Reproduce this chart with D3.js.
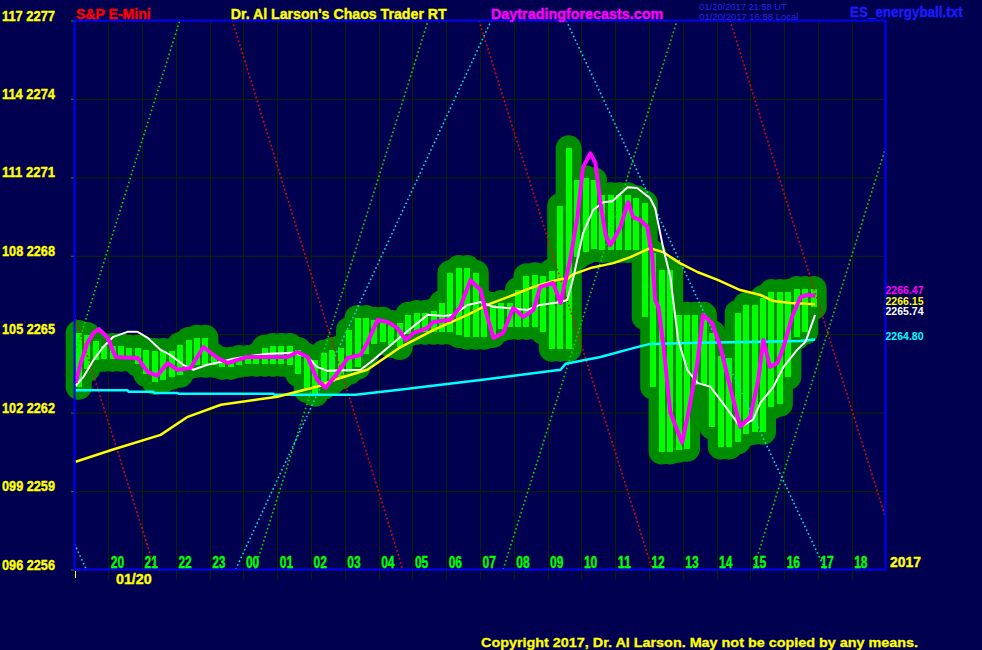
<!DOCTYPE html>
<html><head><meta charset="utf-8">
<script src="https://cdn.jsdelivr.net/npm/d3@7"></script>
<style>html,body{margin:0;padding:0;background:#000050;overflow:hidden}svg{display:block}</style>
</head><body><svg id="c" width="982" height="650"></svg>
<script>
// ---------------- DATA ----------------
const priceTicks   = [2256, 2259, 2262, 2265, 2268, 2271, 2274, 2277];
const priceTickAlt = ["096", "099", "102", "105", "108", "111", "114", "117"];
const hourLabels   = ["20","21","22","23","00","01","02","03","04","05","06","07","08","09","10","11","12","13","14","15","16","17","18"];
const dateLabel = "01/20";
const yearLabel = "2017";

// 15-minute bars starting 19:00
const barStart = "19:00";
const barMinutes = 15;
const barHigh = [2265.05,2264.97,2264.74,2264.55,2264.55,2264.55,2264.48,2264.48,2264.40,2264.36,2264.36,2264.36,
  2264.59,2264.78,2264.86,2264.86,2264.17,2264.02,2264.02,2264.09,2264.09,2264.17,2264.48,2264.55,
  2264.55,2264.55,2264.40,2264.17,2264.02,2264.29,2264.40,2264.48,2265.16,2265.62,2265.62,2265.55,
  2265.55,2265.43,2265.43,2265.74,2265.81,2265.81,2265.89,2266.19,2267.34,2267.53,2267.53,2267.34,
  2266.19,2266.12,2266.19,2266.19,2266.69,2267.22,2267.26,2267.22,2267.40,2269.90,2272.11,2270.89,
  2270.97,2270.89,2270.32,2270.32,2270.32,2270.32,2270.20,2270.01,2268.10,2267.45,2267.45,2265.74,
  2265.74,2265.74,2265.74,2265.05,2264.17,2264.09,2265.81,2266.12,2266.12,2266.39,2266.61,2266.61,
  2266.61,2266.73,2266.73,2266.73];
const barLow = [2262.99,2263.67,2264.02,2264.06,2264.06,2264.06,2264.06,2263.87,2263.48,2263.18,2263.25,2263.37,
  2263.45,2263.75,2263.83,2263.83,2263.83,2263.75,2263.75,2263.83,2263.87,2263.87,2263.87,2263.87,
  2263.87,2263.83,2263.48,2262.87,2262.72,2262.99,2263.18,2263.37,2263.56,2263.75,2264.25,2264.63,
  2264.71,2264.59,2264.51,2265.01,2265.09,2265.09,2265.09,2265.09,2265.09,2264.97,2264.90,2264.90,
  2264.90,2264.97,2265.20,2265.28,2265.28,2265.28,2265.28,2265.09,2264.44,2264.44,2264.44,2267.95,
  2268.14,2268.26,2268.22,2268.22,2268.22,2268.22,2268.22,2265.66,2262.99,2260.51,2260.51,2260.58,
  2260.62,2263.06,2263.06,2261.46,2260.70,2260.70,2260.89,2261.19,2261.27,2261.27,2262.22,2262.34,
  2263.37,2264.90,2265.09,2266.04];

const magentaLine = [["19:02",2263.14],["19:11",2263.90],["19:23",2264.67],["19:34",2265.05],["19:43",2265.20],
  ["19:59",2264.86],["20:13",2264.13],["20:52",2264.09],["21:10",2263.56],["21:27",2263.41],["21:45",2263.90],
  ["22:03",2263.64],["22:26",2263.71],["22:49",2264.51],["23:14",2264.09],["23:32",2263.90],["00:07",2264.13],
  ["00:30",2264.13],["01:18",2264.13],["01:36",2264.32],["01:54",2264.13],["02:11",2263.25],["02:26",2262.95],
  ["02:47",2263.52],["03:05",2264.09],["03:28",2264.21],["03:40",2264.67],["03:58",2265.55],["04:16",2265.47],
  ["04:33",2265.24],["04:48",2264.78],["05:02",2265.05],["05:27",2265.24],["05:37",2265.47],["06:07",2265.55],
  ["06:25",2266.04],["06:43",2267.07],["07:01",2266.69],["07:13",2265.66],["07:24",2264.86],["07:41",2265.05],
  ["07:59",2266.00],["08:17",2265.66],["08:35",2265.93],["08:47",2266.81],["09:10",2266.96],["09:23",2266.19],
  ["09:40",2267.84],["09:53",2269.48],["10:03",2271.39],["10:16",2271.92],["10:25",2271.54],["10:34",2270.01],
  ["10:43",2268.79],["10:51",2268.41],["11:00",2268.71],["11:09",2269.10],["11:23",2270.05],["11:32",2269.48],
  ["11:45",2269.36],["11:57",2269.10],["12:06",2267.95],["12:11",2266.31],["12:17",2266.04],["12:26",2264.51],
  ["12:38",2262.00],["12:59",2260.85],["13:10",2262.00],["13:26",2263.90],["13:36",2265.74],["13:52",2265.43],
  ["14:07",2264.51],["14:24",2262.99],["14:42",2261.46],["15:00",2261.84],["15:14",2263.25],["15:23",2264.78],
  ["15:35",2263.75],["15:48",2263.90],["15:59",2264.51],["16:14",2265.66],["16:29",2266.42],["16:41",2266.50],
  ["16:55",2266.47]];

const whiteLine = [["19:02",2263.03],["19:16",2263.37],["19:34",2264.02],["19:51",2264.51],["20:09",2264.90],
  ["20:34",2265.09],["20:52",2265.09],["21:10",2264.86],["21:33",2264.40],["21:50",2264.21],["22:13",2263.83],
  ["22:31",2263.64],["22:56",2263.83],["23:19",2263.94],["23:42",2264.06],["00:12",2264.17],["00:43",2264.25],
  ["01:29",2264.29],["01:54",2264.13],["02:11",2263.75],["02:29",2263.60],["03:28",2263.64],["03:51",2264.02],
  ["04:39",2264.90],["05:27",2265.74],["05:55",2265.70],["06:13",2265.74],["06:38",2266.12],["07:01",2266.23],
  ["07:24",2266.04],["07:49",2266.00],["08:24",2265.93],["08:47",2266.12],["09:23",2266.23],["09:35",2266.31],
  ["09:46",2267.19],["10:03",2268.87],["10:21",2269.75],["10:39",2270.05],["10:55",2270.09],["11:22",2270.62],
  ["11:39",2270.59],["12:02",2270.20],["12:11",2269.82],["12:25",2268.33],["12:38",2267.19],["12:43",2266.31],
  ["12:52",2264.78],["13:08",2263.64],["13:26",2263.14],["13:49",2262.99],["14:07",2262.49],["14:24",2261.99],
  ["14:42",2261.46],["15:05",2261.73],["15:18",2262.38],["15:41",2262.99],["15:59",2263.75],["16:23",2264.40],
  ["16:38",2264.71],["16:55",2265.74]];

const yellowLine = [["19:02",2260.12],["20:07",2260.58],["21:33",2261.15],["22:21",2261.84],["23:20",2262.30],
  ["01:00",2262.61],["02:17",2263.03],["02:40",2263.25],["03:40",2263.64],["04:39",2264.51],["05:37",2265.16],
  ["06:38",2265.74],["07:13",2266.12],["07:59",2266.50],["08:35",2266.81],["09:23",2267.11],["09:35",2267.11],
  ["09:46",2267.30],["10:16",2267.53],["10:57",2267.72],["11:27",2267.95],["12:02",2268.29],["12:25",2268.14],
  ["12:55",2267.72],["13:26",2267.38],["14:03",2267.07],["14:42",2266.69],["15:18",2266.50],["15:41",2266.27],
  ["16:11",2266.19],["16:55",2266.15]];

const cyanLine = [["19:02",2262.86],["20:34",2262.86],["20:36",2262.80],["21:20",2262.80],["21:22",2262.75],
  ["22:03",2262.75],["22:05",2262.72],["00:53",2262.72],["00:55",2262.68],["03:19",2262.68],["04:33",2262.87],
  ["07:01",2263.25],["09:23",2263.64],["09:32",2263.87],["10:34",2264.13],["11:27",2264.44],["12:02",2264.63],
  ["13:31",2264.67],["16:29",2264.74],["16:55",2264.80]];

const lastValues = [2266.47, 2266.15, 2265.74, 2264.80]; // magenta, yellow, white, cyan

// dotted angle lines: [time1, price1, time2, price2]
const redAngles = [["19:00",2265.73,"21:23",2256],["23:40",2277,"04:43",2256],["06:58",2277,"12:06",2256],["14:24",2277,"20 19:00",2257.99]];
const greenAngles = [["19:00",2264.18,"22:07",2277],["00:20",2256,"05:28",2277],["07:41",2256,"12:50",2277],["15:05",2256,"20 19:00",2272.12]];
const cyanAngles = [["19:00",2256.98,"19:21",2256],["23:46",2256,"07:20",2277],["09:33",2277,"17:13",2256]];

// ---------------- CHART ----------------
function T(s){
  let day = null, hm = s;
  if (s.includes(" ")) { const p = s.split(" "); day = +p[0]; hm = p[1]; }
  const [h, m] = hm.split(":").map(Number);
  if (day === null) day = h >= 19 ? 19 : 20;
  return new Date(2017, 0, day, h, m);
}
const L = 74.5, R = 885.5, TOP = 20.5, B = 569.5;
const x = d3.scaleTime().domain([T("19:00"), T("20 19:00")]).range([L, R]);
const y = d3.scaleLinear().domain([2256, 2277]).range([B, TOP]);
const svg = d3.select("#c");
const FONT = "'Liberation Sans', Arial, sans-serif";

svg.append("rect").attr("width",982).attr("height",650).attr("fill","#000050");
svg.append("clipPath").attr("id","plot").append("rect").attr("x",L).attr("y",TOP).attr("width",R-L).attr("height",B-TOP);

const gridColor = "#0c1e0c";
// vertical hour gridlines
const hourDates = hourLabels.map(h => T(h + ":00"));
svg.append("g").selectAll("line").data(hourDates).join("line")
  .attr("x1", d => Math.round(x(d)) + 0.5).attr("x2", d => Math.round(x(d)) + 0.5)
  .attr("y1", TOP).attr("y2", 580).attr("stroke", gridColor).attr("stroke-width", 1.2);

// y axis with gridlines
const yAxis = d3.axisLeft(y).tickValues(priceTicks).tickSize(-(R - L))
  .tickFormat((d, i) => priceTickAlt[i] + " " + d);
const gy = svg.append("g").attr("transform", `translate(${L},0)`).call(yAxis);
gy.select(".domain").remove();
gy.selectAll(".tick line").attr("stroke", gridColor).attr("stroke-width", 1.2);
gy.selectAll(".tick text").attr("text-anchor","start").attr("x", 2 - L).attr("y", -0.5).attr("dy", 0)
  .attr("fill","#ffff00").attr("stroke","#ffff00").attr("stroke-width",0.4)
  .attr("font-family", FONT).attr("font-weight","bold").attr("font-size", 15)
  .attr("textLength", 53).attr("lengthAdjust", "spacingAndGlyphs");
gy.selectAll(".tick").append("line").attr("x1", -3.5).attr("x2", 0).attr("stroke", "#00a000");

// price bars: energy balls and bars
const bars = barHigh.map((h, i) => ({
  t: new Date(T(barStart).getTime() + (i * barMinutes + barMinutes / 2) * 60000),
  hi: h, lo: barLow[i]
}));
svg.append("g").selectAll("line").data(bars).join("line")
  .attr("x1", d => x(d.t)).attr("x2", d => x(d.t))
  .attr("y1", d => y(d.hi)).attr("y2", d => y(d.lo))
  .attr("stroke", "#008c00").attr("stroke-width", 26).attr("stroke-linecap", "round");
svg.append("g").selectAll("rect").data(bars).join("rect")
  .attr("x", d => x(d.t) - 3).attr("width", 6)
  .attr("y", d => y(d.hi)).attr("height", d => Math.max(1, y(d.lo) - y(d.hi)))
  .attr("fill", "#00ff00").attr("shape-rendering","crispEdges");

// dotted angle lines
const angG = svg.append("g").attr("clip-path","url(#plot)");
function angles(data, color){
  angG.append("g").selectAll("line").data(data).join("line")
    .attr("x1", d => x(T(d[0]))).attr("y1", d => y(d[1]))
    .attr("x2", d => x(T(d[2]))).attr("y2", d => y(d[3]))
    .attr("stroke", color).attr("stroke-width", 1.6).attr("stroke-dasharray", "1.6 2.6");
}
angles(redAngles, "#ff0000");
angles(greenAngles, "#00e000");
angles(cyanAngles, "#00e0e0");

// indicator lines
const line = d3.line().x(d => x(T(d[0]))).y(d => y(d[1]));
function drawLine(data, color, w){
  svg.append("path").datum(data).attr("d", line).attr("fill","none")
    .attr("stroke", color).attr("stroke-width", w).attr("stroke-linejoin","round");
}
drawLine(cyanLine, "#00ffff", 2.5);
drawLine(yellowLine, "#ffff00", 2.5);
drawLine(whiteLine, "#ffffff", 2);
drawLine(magentaLine, "#ff00ff", 4);

// plot border
svg.append("rect").attr("x", L).attr("y", TOP).attr("width", R - L).attr("height", B - TOP)
  .attr("fill","none").attr("stroke","#0000ff").attr("stroke-width", 2);

// x axis hour labels
const xAxis = d3.axisBottom(x).tickValues(hourDates).tickFormat(d3.timeFormat("%H")).tickSize(0);
const gx = svg.append("g").attr("transform", `translate(0,${B})`).call(xAxis);
gx.select(".domain").remove();
gx.selectAll(".tick text").attr("text-anchor","start").attr("x", 2).attr("y", -1.5).attr("dy", 0)
  .attr("fill","#00ff00").attr("stroke","#00ff00").attr("stroke-width",0.4)
  .attr("font-family", FONT).attr("font-weight","bold").attr("font-size", 16)
  .attr("textLength", 13.3).attr("lengthAdjust","spacingAndGlyphs");

// small marks
svg.append("line").attr("x1", x(T("19:00")) + 1).attr("x2", x(T("19:00")) + 1).attr("y1", 571).attr("y2", 578)
  .attr("stroke","#ffff00").attr("stroke-width", 1);

function txt(s, px, py, size, color, weight, len, sw){
  const t = svg.append("text").attr("x", px).attr("y", py).text(s)
    .attr("font-family", FONT).attr("font-size", size).attr("font-weight", weight).attr("fill", color);
  if (sw) t.attr("stroke", color).attr("stroke-width", sw);
  if (len) t.attr("textLength", len).attr("lengthAdjust","spacingAndGlyphs");
  return t;
}
txt(dateLabel, 116, 584.3, 14, "#ffff00", "bold", 35.7, 0.4);
txt(yearLabel, 890, 566.7, 15, "#ffff00", "bold", 31, 0.4);

// last value labels (magenta nudged up slightly so it does not collide with yellow)
const lastColors = ["#ff00ff", "#ffff00", "#ffffff", "#00ffff"];
const lastNudge = [-1.5, 0.5, 0.5, 0.5];
svg.append("g").selectAll("text").data(lastValues).join("text")
  .attr("x", R).attr("y", (d, i) => y(d) + lastNudge[i]).text(d => d.toFixed(2))
  .attr("fill", (d, i) => lastColors[i]).attr("font-family", FONT).attr("font-weight","bold")
  .attr("font-size", 11).attr("textLength", 38).attr("lengthAdjust","spacingAndGlyphs");

// header
txt("S&P E-Mini", 76, 18.7, 15, "#ff0000", "bold", 74.7, 0.4);
txt("Dr. Al Larson's Chaos Trader RT", 230.7, 18.7, 15, "#ffff00", "bold", 216, 0.4);
txt("Daytradingforecasts.com", 491, 18.5, 15, "#ff00ff", "bold", 172.3, 0.4);
txt("01/20/2017 21:58 UT", 699.3, 9.5, 9.5, "#2626e6", "normal", 87.4);
txt("01/20/2017 16:58 Local", 699.3, 19.6, 9.5, "#2626e6", "normal", 99);
txt("ES_energyball.txt", 850, 16.7, 14, "#1c1cff", "bold", 112.7, 0.3);

// footer
txt("Copyright 2017, Dr. Al Larson. May not be copied by any means.", 481, 647, 13.5, "#ffff00", "bold", 437, 0.3);
</script>
</body></html>
